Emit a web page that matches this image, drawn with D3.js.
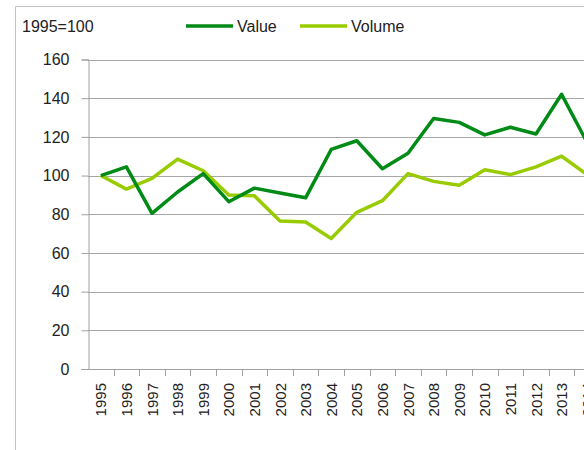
<!DOCTYPE html>
<html>
<head>
<meta charset="utf-8">
<script src="https://cdn.jsdelivr.net/npm/d3@7"></script>
<style>
  body { margin: 0; background: #fff; overflow: hidden; }
  svg { display: block; font-family: "Liberation Sans", Arial, sans-serif; }
</style>
</head>
<body>
<script>
// Data (index, 1995=100)
var years = [1995, 1996, 1997, 1998, 1999, 2000, 2001, 2002, 2003, 2004,
             2005, 2006, 2007, 2008, 2009, 2010, 2011, 2012, 2013, 2014];
var valueSeries = [100, 104.5, 80.5, 91.5, 101, 86.5, 93.5, 91, 88.5, 113.5,
                   118, 103.5, 111.5, 129.5, 127.5, 121, 125, 121.5, 142, 117];
var volumeSeries = [100, 93, 98.5, 108.5, 102.5, 90, 89.5, 76.5, 76, 67.5,
                    81, 87, 101, 97, 95, 103, 100.5, 104.5, 110, 100.5];
var yTicks = [0, 20, 40, 60, 80, 100, 120, 140, 160];

var width = 584;
var height = 450;
var svg = d3.select("body")
  .append("svg")
  .attr("width", width)
  .attr("height", height);

// Outer frame (cut off on the right and bottom like the reference)
svg.append("path")
  .attr("d", "M15.5," + height + "V6.5H" + width)
  .attr("fill", "none")
  .attr("stroke", "#c4c4c4");

var plotLeft = 88, plotTop = 59.5, plotBottom = 369;
var step = 25.6;

var xScale = d3.scaleBand()
  .domain(years)
  .range([plotLeft, plotLeft + step * years.length])
  .padding(0);

var yScale = d3.scaleLinear()
  .domain([0, 160])
  .range([plotBottom, plotTop]);

// Gridlines
svg.append("g")
  .selectAll("line")
  .data(yTicks.filter(function(d) { return d > 0; }))
  .enter()
  .append("line")
  .attr("x1", plotLeft)
  .attr("x2", width)
  .attr("y1", function(d) { return Math.round(yScale(d)) + 0.5; })
  .attr("y2", function(d) { return Math.round(yScale(d)) + 0.5; })
  .attr("stroke", "#a6a6a6")
  .attr("stroke-width", 1);

// Y axis
var yAxis = d3.axisLeft(yScale).tickValues(yTicks).tickSize(7).tickPadding(12);
var gy = svg.append("g")
  .attr("transform", "translate(" + (plotLeft + 0.5) + ",0)")
  .call(yAxis);
gy.select(".domain").attr("stroke", "#a0a0a0");
gy.selectAll(".tick line").attr("stroke", "#a0a0a0");
gy.selectAll(".tick text")
  .attr("font-size", "16px")
  .attr("fill", "#222")
  .attr("font-family", "Liberation Sans, Arial, sans-serif");

// X axis line and boundary ticks
var gx = svg.append("g");
gx.append("line")
  .attr("x1", plotLeft - 7)
  .attr("x2", width)
  .attr("y1", plotBottom + 0.5)
  .attr("y2", plotBottom + 0.5)
  .attr("stroke", "#a0a0a0");
gx.selectAll("line.tk")
  .data(years)
  .enter()
  .append("line")
  .attr("class", "tk")
  .attr("x1", function(d) { return Math.round(xScale(d) + step) + 0.5; })
  .attr("x2", function(d) { return Math.round(xScale(d) + step) + 0.5; })
  .attr("y1", plotBottom)
  .attr("y2", plotBottom + 7)
  .attr("stroke", "#a0a0a0");
gx.selectAll("text")
  .data(years)
  .enter()
  .append("text")
  .attr("transform", function(d) {
    return "translate(" + (xScale(d) + step / 2 + 5.5) + "," + (plotBottom + 14) + ") rotate(-90)";
  })
  .attr("text-anchor", "end")
  .attr("font-size", "15px")
  .attr("fill", "#222")
  .text(function(d) { return d; });

// Lines
var line = d3.line()
  .x(function(d, i) { return xScale(years[i]) + step / 2; })
  .y(function(d) { return yScale(d); });

svg.append("path")
  .datum(volumeSeries)
  .attr("fill", "none")
  .attr("stroke", "#99cc00")
  .attr("stroke-width", 3.5)
  .attr("stroke-linejoin", "round")
  .attr("d", line);

svg.append("path")
  .datum(valueSeries)
  .attr("fill", "none")
  .attr("stroke", "#008a16")
  .attr("stroke-width", 3.5)
  .attr("stroke-linejoin", "round")
  .attr("d", line);

// Unit label
svg.append("text")
  .attr("x", 22)
  .attr("y", 32)
  .attr("font-size", "16px")
  .attr("fill", "#222")
  .text("1995=100");

// Legend
var legend = [
  { name: "Value", color: "#008a16", x: 186 },
  { name: "Volume", color: "#99cc00", x: 300 }
];
var lg = svg.append("g")
  .selectAll("g")
  .data(legend)
  .enter()
  .append("g")
  .attr("transform", function(d) { return "translate(" + d.x + ",26)"; });
lg.append("line")
  .attr("x1", 0)
  .attr("x2", 47)
  .attr("stroke", function(d) { return d.color; })
  .attr("stroke-width", 3.5);
lg.append("text")
  .attr("x", 51)
  .attr("y", 6)
  .attr("font-size", "16px")
  .attr("fill", "#222")
  .text(function(d) { return d.name; });
</script>
</body>
</html>
